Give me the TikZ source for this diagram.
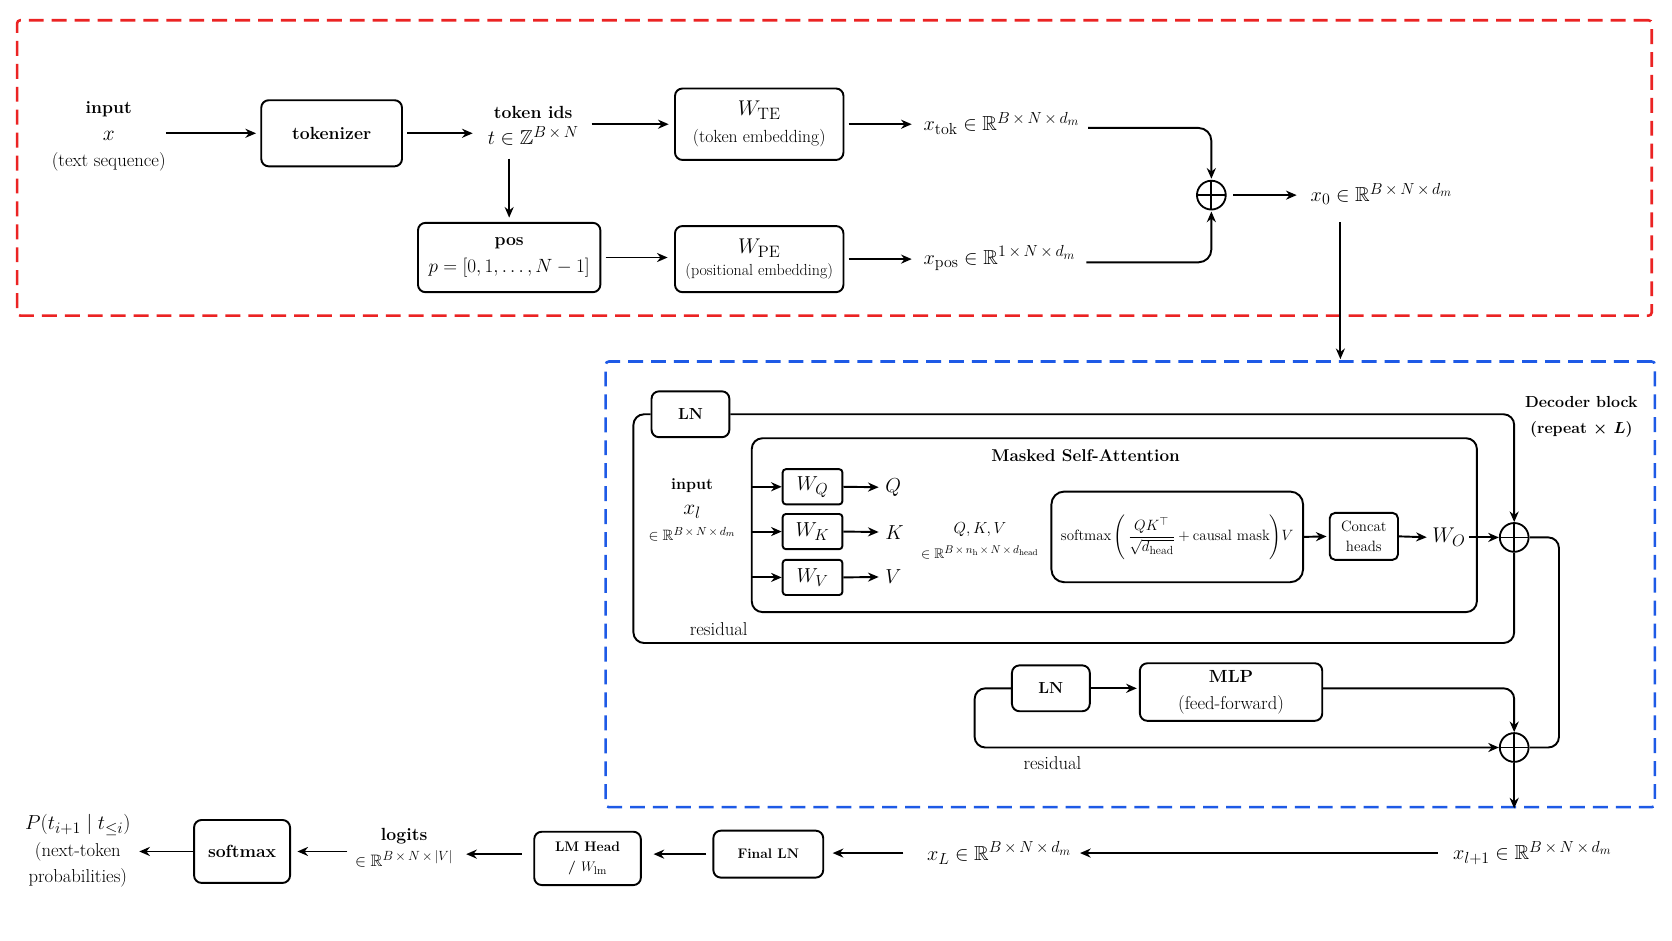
\RequirePackage{fix-cm}
\documentclass[tikz,border=0pt]{standalone}
\usepackage{amsmath,amssymb}
\usetikzlibrary{arrows.meta}
\definecolor{encred}{RGB}{235,35,35}
\definecolor{decblue}{RGB}{30,90,230}
\DeclareMathSizes{20}{20}{15.5}{12}
\DeclareMathSizes{19}{19}{15}{11.5}
\DeclareMathSizes{17.5}{17.5}{14}{10.5}
\DeclareMathSizes{16.5}{16.5}{13}{10}
\DeclareMathSizes{15.5}{15.5}{12.5}{9.5}
\DeclareMathSizes{15}{15}{12}{9}
\DeclareMathSizes{14}{14}{11}{8.5}
\DeclareMathSizes{13}{13}{10.5}{8}
\newcommand{\fr}{\fontsize{17.5}{25}\selectfont}
\newcommand{\fb}{\fontsize{16.5}{25}\selectfont}
\newcommand{\fd}{\fontsize{15}{24}\selectfont}
\newcommand{\fs}{\fontsize{15}{20}\selectfont}
\newcommand{\fx}{\fontsize{19}{25}\selectfont}
\newcommand{\fy}{\fontsize{20}{25}\selectfont}
\newcommand{\tm}{\mskip3mu\times\mskip3mu}
\tikzset{
  box/.style={draw, rounded corners=7pt, line width=1.8pt, align=center, inner sep=2pt},
  lbl/.style={align=center, inner sep=0pt},
  arr/.style={-{Stealth[length=10pt,width=8.5pt]}, line width=1.8pt},
  ln/.style={line width=1.8pt},
  plus/.style={circle, draw, line width=1.7pt, minimum size=27pt, inner sep=0pt,
    path picture={\draw[line width=1.7pt] (path picture bounding box.north) -- (path picture bounding box.south)
      (path picture bounding box.west) -- (path picture bounding box.east);}},
  regionbox/.style={line width=2.4pt, dash pattern=on 14pt off 7.5pt, rounded corners=3pt, inner sep=0pt},
}
\begin{document}
\begin{tikzpicture}[x=1pt,y=-1pt]
\useasboundingbox (0,0) rectangle (1568,882);
\fill[white] (0,0) rectangle (1568,882);

% regions
\node[regionbox, draw=encred, minimum width=1533pt, minimum height=277pt] (enc) at (782.5,157.5) {};
\node[regionbox, draw=decblue, minimum width=984pt, minimum height=418pt] (dec) at (1060,548) {};

% ---------- embedding stage ----------
\node[lbl, font=\fr] (inp) at (102,128) {{\fb\bfseries input}\\{\fy$x$}\\(text sequence)};
\node[box, font=\fb\bfseries, minimum width=132pt, minimum height=62pt] (tok) at (311,125) {tokenizer};
\node[lbl, font=\fb] (tid) at (500,118) {\textbf{token ids}\\{\fx$t\in\mathbb{Z}^{B\tm N}$}};
\node[box, font=\fb, minimum width=158pt, minimum height=67pt] (wte) at (712,116.5) {{\fy$W_{\mathrm{TE}}$}\\(token embedding)};
\node[box, font=\fb, minimum width=171pt, minimum height=65pt] (pos) at (477.5,241.5) {\textbf{pos}\\{\fontsize{18}{25}\selectfont$p=[0,1,\dots,N-1]$}};
\node[box, font=\fs, minimum width=158pt, minimum height=62pt] (wpe) at (712,243) {{\fy$W_{\mathrm{PE}}$}\\(positional embedding)};
\node[lbl, font=\fx, anchor=west] (xtok) at (866,116) {$x_{\mathrm{tok}}\in\mathbb{R}^{B\tm N\tm d_m}$};
\node[lbl, font=\fx, anchor=west] (xpos) at (866,242) {$x_{\mathrm{pos}}\in\mathbb{R}^{1\tm N\tm d_m}$};
\node[plus] (p1) at (1136,183) {};
\node[lbl, font=\fx, anchor=west] (x0) at (1229,182) {$x_0\in\mathbb{R}^{B\tm N\tm d_m}$};
\coordinate (c0) at (1257,0);

\draw[arr, shorten >=4pt] (inp.east |- tok) -- (tok.west);
\draw[arr, shorten <=4pt, shorten >=14pt] (tok.east) -- (tok.east -| tid.west);
\draw[arr, shorten <=12pt, shorten >=5pt] (tid.east |- wte) -- (wte.west);
\draw[arr, shorten <=12pt, shorten >=4pt] (tid.south -| pos) -- (pos.north);
\draw[arr, shorten <=4pt, shorten >=6pt] (pos.east) -- (pos.east -| wpe.west);
\draw[arr, shorten <=4pt, shorten >=11pt] (wte.east) -- (wte.east -| xtok.west);
\draw[arr, shorten <=4pt, shorten >=11pt] (wpe.east) -- (wpe.east -| xpos.west);
\draw[arr, rounded corners=12pt, shorten <=8pt, shorten >=1pt] ([yshift=-4pt]xtok.east) -| (p1.north);
\draw[arr, rounded corners=12pt, shorten <=10pt, shorten >=1pt] ([yshift=-4pt]xpos.east) -| (p1.south);
\draw[arr, shorten <=6pt, shorten >=13pt] (p1.east) -- (p1.east -| x0.west);
\draw[arr, shorten <=16pt, shorten >=1pt] (x0.south -| c0) -- (dec.north -| c0);

% ---------- decoder block ----------
\node[box, font=\fd\bfseries, minimum width=73pt, minimum height=43pt] (ln1) at (647.5,388.5) {LN};
\node[box, minimum width=680pt, minimum height=163pt, rounded corners=10pt] (msa) at (1045,492.5) {};
\node[lbl, font=\fontsize{16}{20}\selectfont\bfseries] (msat) at (1018,427) {Masked Self-Attention};
\node[lbl, font=\fd] (inp2) at (649,478) {\textbf{input}\\{\fy$x_l$}\\{\fontsize{14}{14}\selectfont$\in\mathbb{R}^{B\tm N\tm d_m}$}};

\node[box, minimum width=56pt, minimum height=33pt, rounded corners=3pt, font=\fx] (wq) at (762,456.5) {$W_Q$};
\node[box, minimum width=56pt, minimum height=33pt, rounded corners=3pt, font=\fx] (wk) at (762,498.5) {$W_K$};
\node[box, minimum width=56pt, minimum height=33pt, rounded corners=3pt, font=\fx] (wv) at (762,541.5) {$W_V$};
\node[lbl, font=\fx, anchor=west] (q) at (830,457) {$Q$};
\node[lbl, font=\fx, anchor=west] (k) at (830,499) {$K$};
\node[lbl, font=\fx, anchor=west] (v) at (830,541) {$V$};
\draw[arr] (msa.west |- wq) -- (wq.west);
\draw[arr] (msa.west |- wk) -- (wk.west);
\draw[arr] (msa.west |- wv) -- (wv.west);
\draw[arr, shorten >=6pt] (wq.east) -- (q.west);
\draw[arr, shorten >=6pt] (wk.east) -- (k.west);
\draw[arr, shorten >=6pt] (wv.east) -- (v.west);

\node[lbl, font=\fd] (qkv) at (919,507) {$Q,K,V$\\{\fontsize{13}{16}\selectfont$\in\mathbb{R}^{B\tm n_{\mathrm h}\tm N\tm d_{\mathrm{head}}}$}};
\node[box, minimum width=236pt, minimum height=85pt, font=\fontsize{14}{18}\selectfont, rounded corners=12pt, inner sep=0pt] (smx) at (1104,503.5)
  {$\text{softmax}\left(\,\dfrac{QK^{\top}}{\sqrt{d_{\text{head}}}}+\text{causal mask}\right)\!V$};
\node[box, font=\fontsize{14}{18}\selectfont, minimum width=64pt, minimum height=44pt, rounded corners=5pt] (cat) at (1279,503) {Concat\\heads};
\node[lbl, font=\fy, anchor=west] (wo) at (1343,504) {$W_O$};
\node[plus] (p2) at (1420,504) {};
\draw[arr, shorten >=2pt] (smx.east) -- (cat.west);
\draw[arr, shorten >=5pt] (cat.east) -- (wo.west);
\draw[arr, shorten <=3pt] (wo.east) -- (p2.west);

\node[lbl, font=\fd\bfseries] (declbl) at (1483,391) {Decoder block\\(repeat {\boldmath$\times$} {\boldmath$L$})};

\coordinate (rl) at (594,603);
\draw[arr, rounded corners=10pt] (ln1.east) -| (p2.north);
\draw[ln, rounded corners=10pt] (ln1.west) -| (rl) -| (p2.south);
\node[lbl, font=\fr] (res1) at (674,590) {residual};

\node[box, font=\fd\bfseries, minimum width=73pt, minimum height=43pt] (ln2) at (985.5,645.5) {LN};
\node[box, font=\fr, minimum width=171pt, minimum height=54pt] (mlp) at (1154.5,649) {{\fb\bfseries MLP}\\(feed-forward)};
\node[plus] (p3) at (1420,701) {};
\coordinate (rl2) at (914,680);
\coordinate (rr) at (1462,600);
\draw[arr, shorten >=2pt] (ln2.east) -- (ln2.east -| mlp.west);
\draw[arr, rounded corners=10pt] (ln2.east -| mlp.east) -| (p3.north);
\draw[arr, rounded corners=10pt] (ln2.west) -| (rl2) |- (p3.west);
\node[lbl, font=\fr] (res2) at (987,716) {residual};
\draw[ln, rounded corners=10pt] (p2.east) -| (rr) |- (p3.east);
\draw[arr] (p3.south) -- (p3.south |- dec.south);

% ---------- output head ----------
\node[lbl, font=\fx] (xl1) at (1437,800) {$x_{l+1}\in\mathbb{R}^{B\tm N\tm d_m}$};
\node[lbl, font=\fx] (xL) at (937,800) {$x_L\in\mathbb{R}^{B\tm N\tm d_m}$};
\node[box, font=\fontsize{13}{18}\selectfont\bfseries, minimum width=103pt, minimum height=44pt] (fln) at (720.5,801) {Final LN};
\node[box, font=\fontsize{13}{21}\selectfont\bfseries, minimum width=100pt, minimum height=50pt] (lmh) at (551,805) {\raisebox{-3pt}{LM Head}\\/ $W_{\mathrm{lm}}$};
\node[lbl, font=\fb] (lgt) at (379,795) {\textbf{logits}\\{\fontsize{15.5}{18}\selectfont$\in\mathbb{R}^{B\tm N\tm|V|}$}};
\node[box, font=\fb\bfseries, minimum width=90pt, minimum height=59pt] (sm2) at (227,798.5) {softmax};
\node[lbl, font=\fr] (pout) at (73,798) {{\fx$P(t_{i+1}\mid t_{\le i})$}\\(next-token\\probabilities)};

\draw[arr, shorten <=14pt, shorten >=8pt] (xl1.west) -- (xL.east);
\draw[arr, shorten <=22pt, shorten >=8pt] (xL.west) -- (xL.west -| fln.east);
\draw[arr, shorten <=6pt, shorten >=11pt] (fln.west) -- (fln.west -| lmh.east);
\draw[arr, shorten <=11pt, shorten >=12pt] (lmh.west |- fln) -- (lgt.east |- fln);
\draw[arr, shorten <=7pt, shorten >=6pt] (lgt.west |- sm2) -- (sm2.east);
\draw[arr, shorten >=8pt] (sm2.west) -- (sm2.west -| pout.east);
\end{tikzpicture}
\end{document}
